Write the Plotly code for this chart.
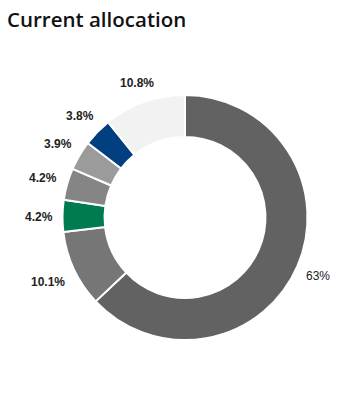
import re
import numpy as np
import plotly.graph_objects as go

labels = ["A", "B", "C", "D", "E", "F", "G"]
values = [63.0, 10.1, 4.2, 4.2, 3.9, 3.8, 10.8]
text_labels = ["63%", "<b>10.1%</b>", "<b>4.2%</b>", "<b>4.2%</b>", "<b>3.9%</b>", "<b>3.8%</b>", "<b>10.8%</b>"]
colors = ["#626262", "#767676", "#007a4f", "#858585", "#9b9b9b", "#023f80", "#f2f2f2"]

W, H = 355, 405
CX, CY, R = 185, 217.5, 122.5
GAP = 10
FONT_SIZE = 12

fig = go.Figure(go.Pie(
    labels=labels,
    values=values,
    textinfo="none",
    hole=0.657,
    sort=False,
    direction="clockwise",
    rotation=0,
    marker=dict(colors=colors, line=dict(color="white", width=2)),
    domain=dict(x=[(CX - R) / W, (CX + R) / W], y=[1 - (CY + R) / H, 1 - (CY - R) / H]),
    showlegend=False,
    hoverinfo="skip",
))

vals = np.array(values)
cum = np.cumsum(vals) - vals / 2
theta = cum / vals.sum() * 2 * np.pi
annotations = []
for t, txt in zip(theta, text_labels):
    plain = re.sub(r"<[^>]+>", "", txt)
    half_w = 0.58 * FONT_SIZE * len(plain) / 2
    half_h = FONT_SIZE / 2
    dist = R + GAP + abs(np.sin(t)) * half_w + abs(np.cos(t)) * half_h
    px = CX + dist * np.sin(t)
    py = CY - dist * np.cos(t) + 1
    annotations.append(dict(
        x=px / W, y=1 - py / H, xref="paper", yref="paper",
        text=txt, showarrow=False, xanchor="center", yanchor="middle",
        font=dict(family="Liberation Sans", size=FONT_SIZE, color="#222222"),
    ))

fig.update_layout(
    width=W, height=H,
    margin=dict(l=0, r=0, t=0, b=0),
    paper_bgcolor="white",
    plot_bgcolor="white",
    annotations=annotations,
    title=dict(text="Current allocation", x=7 / W, xanchor="left", y=1 - 20 / H, yanchor="middle",
               font=dict(family="Open Sans", size=20.5, color="#111111", weight=600)),
)

fig.write_html("out.html")
